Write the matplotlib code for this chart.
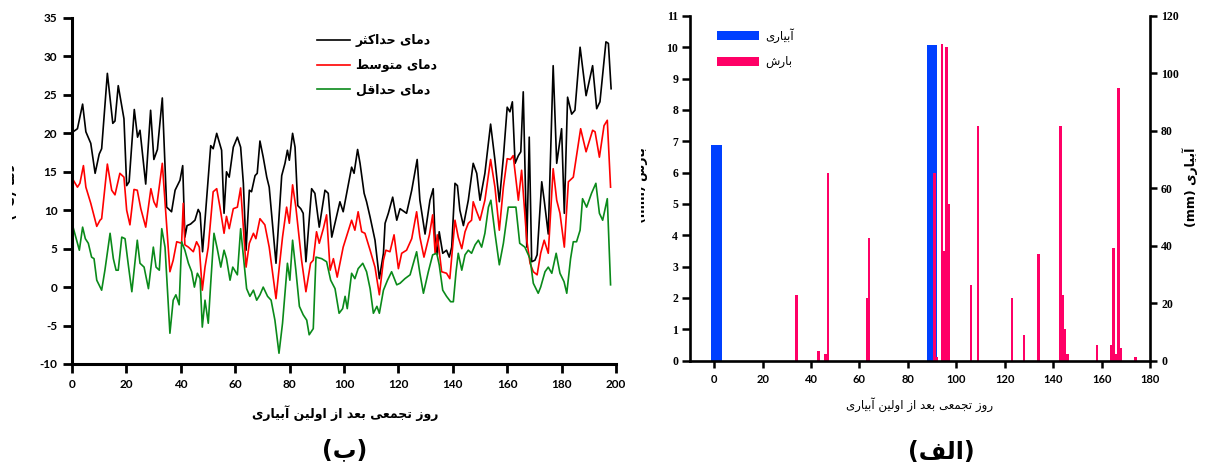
import matplotlib
matplotlib.use("Agg")
import matplotlib.pyplot as plt
from matplotlib.transforms import Bbox

# ---------------- data ----------------
tmax_days = [0, 2, 3.9, 5.1, 6.9, 8.5, 10, 10.9, 13, 15, 15.8, 17, 19.1, 20.1, 21, 22.9, 24.1, 25, 27.1, 28.9,
             30.1, 31.4, 33.2, 34.8, 36.6, 37.9, 39.7, 40.7, 41.5, 42.3, 43.6, 45.2, 46.4, 47.1, 48, 51, 51.9, 53.2,
             55, 55.9, 56.8, 57.8, 59.3, 60.8, 62, 63, 64, 65.2, 66, 67.3, 68.1, 69.1, 70.3, 71.6, 72.5, 75,
             77.1, 78.3, 79.2, 79.9, 81.1, 82, 83, 84.1, 85, 86, 88.1, 89.3, 90.9, 93, 94.2, 95.5, 98.5, 99.7,
             102.8, 103.7, 105, 105.9, 107.4, 108.3, 109.6, 111.4, 113, 114.5, 115.1, 116.3, 117.9, 119.4,
             120.6, 123, 124.9, 126.9, 127.9, 129.8, 131.6, 132.8, 133.5, 134.3, 135, 136.3, 137.7, 138.7,
             139.6, 140.8, 141.7, 142.6, 143.9, 145.7, 147.5, 148.8, 150, 151.8, 153.9, 155.5, 157.1, 158.6,
             160, 161, 161.9, 162.9, 164.1, 165, 165.9, 167.2, 168.1, 169, 170.2, 171, 172.7, 173.6, 175.1,
             176.9, 178.2, 180, 181, 182.2, 183.7, 184.9, 186.8, 189, 191.4, 192.9, 194.1, 196.3, 197.2, 198.2]
tmax = [20.1, 20.6, 23.8, 20.2, 18.7, 14.8, 17.3, 18.0, 27.8, 21.3, 21.6, 26.2, 21.9, 13.2, 13.7, 23.1, 19.5, 20.4,
        13.4, 23.0, 16.6, 17.9, 24.6, 10.4, 9.8, 12.6, 13.9, 15.8, 6.5, 8.0, 8.2, 8.7, 10.1, 9.6, 4.6, 18.4, 18.0,
        20.0, 17.8, 9.6, 15.0, 14.3, 18.2, 19.5, 18.2, 13.5, 4.8, 12.6, 12.4, 14.5, 14.8, 19.0, 16.9, 14.3, 13.0,
        3.1, 14.5, 16.1, 17.8, 16.5, 20.0, 18.2, 10.6, 10.2, 9.6, 3.3, 12.8, 12.2, 7.8, 12.6, 12.2, 6.5, 11.1,
        9.8, 15.6, 14.8, 17.9, 16.1, 12.2, 11.1, 9.1, 6.1, 1.1, 4.4, 8.3, 9.6, 11.7, 8.7, 10.2, 9.6, 12.6, 16.6,
        11.3, 6.9, 11.3, 12.8, 6.1, 4.2, 7.2, 4.4, 4.8, 3.9, 5.2, 13.5, 13.2, 10.0, 8.0, 11.3, 16.1, 14.8, 11.3,
        14.8, 21.2, 16.5, 11.1, 16.9, 23.4, 22.8, 24.1, 16.1, 17.1, 17.6, 25.4, 5.2, 19.5, 3.3, 3.5, 4.2, 13.7,
        11.3, 6.9, 28.8, 16.1, 20.6, 9.6, 24.7, 22.5, 23.0, 31.2, 24.9, 28.8, 23.2, 24.1, 31.9, 31.7, 25.8]

tmean_days = [0, 2, 2.9, 4.2, 5.1, 6.9, 9.1, 10.3, 10.9, 13, 14.6, 15.8, 17.6, 19.1, 20.1, 21.3, 22.8, 24, 25.3,
              27.1, 29, 30.1, 31.1, 33.2, 36, 37.2, 38.5, 40.3, 40.9, 41.5, 42.8, 44.6, 45.8, 46.8, 47.9, 48.9,
              50.1, 51.9, 53.2, 54.4, 55.9, 56.8, 57.8, 59.3, 60.8, 62, 64, 65.2, 66.7, 67.6, 69.1, 70.9, 72.5,
              75, 76.2, 77.4, 78.9, 79.9, 81.1, 82.3, 84.4, 86, 87.7, 88.7, 89.9, 90.9, 92.4, 93.6, 94.9, 96.1,
              97.5, 99.7, 102.8, 104, 105.2, 106.5, 107.7, 109.6, 111.4, 113, 114.5, 115.4, 116.9, 118.4, 120,
              121.2, 123, 124.9, 126.7, 127.9, 129.4, 131.4, 132.6, 133.5, 134.3, 135.9, 137.7, 138.9, 140.8,
              142, 143.3, 144.5, 145.7, 146.9, 147.5, 148.8, 150, 151.8, 153.9, 155.5, 157.1, 158.6, 160, 161.2,
              162.2, 164.1, 165.3, 167.2, 168.4, 169.6, 171, 172.3, 173.6, 175.1, 176.9, 178.2, 179.4, 181,
              182.5, 184.3, 187, 189, 191.4, 192.3, 193.9, 195.6, 196.8, 198]
tmean = [14.2, 13.0, 13.5, 15.8, 13.0, 10.9, 7.9, 8.7, 8.9, 16.0, 12.6, 12.0, 14.8, 14.3, 10.0, 8.1, 12.7, 12.6,
         10.2, 7.8, 12.8, 11.1, 10.4, 16.1, 2.0, 3.5, 5.9, 5.7, 10.9, 5.5, 5.2, 4.6, 5.9, 5.2, -0.4, 2.6, 5.2,
         12.4, 12.8, 10.4, 7.0, 9.2, 7.6, 10.2, 10.4, 12.9, 2.6, 5.7, 7.0, 6.3, 8.9, 8.1, 5.2, -1.5, 2.6, 6.5,
         10.4, 8.3, 13.3, 10.4, 3.5, -0.6, 3.1, 3.5, 7.2, 5.7, 7.6, 9.4, 2.2, 3.7, 1.3, 5.2, 8.7, 7.4, 9.8, 7.2,
         7.0, 4.8, 2.6, -1.0, 3.5, 4.8, 4.6, 6.8, 2.4, 4.4, 4.8, 6.3, 9.8, 6.5, 3.9, 6.8, 9.4, 4.4, 6.8, 2.0,
         1.8, 1.1, 8.7, 6.5, 5.0, 7.2, 8.3, 8.7, 11.1, 9.8, 8.7, 11.3, 16.6, 13.0, 7.4, 13.0, 16.7, 16.6, 17.1,
         11.3, 15.2, 6.1, 3.1, 2.0, 1.6, 4.4, 6.1, 4.4, 15.4, 11.3, 9.6, 5.2, 13.7, 14.3, 20.6, 17.6, 20.4,
         20.2, 16.9, 21.0, 21.7, 13.0]

tmin_days = [0, 1.7, 2.7, 3.9, 4.9, 6, 7.2, 8.1, 9.1, 10.9, 12.1, 14, 15.2, 16.2, 17, 18.3, 19.5, 20.7, 22, 23.2,
             24, 25, 26.5, 28.1, 29.9, 30.9, 32.1, 33, 34.2, 36, 37.2, 38.2, 39.4, 40.3, 41.5, 42.8, 44, 45, 46.1,
             47.1, 47.9, 48.9, 50.1, 51, 52.2, 53.4, 54.7, 55.9, 56.8, 58.1, 59.1, 60.8, 62, 63, 64.2, 65.4,
             66.7, 67.9, 69.1, 70.3, 71.9, 73.2, 74.6, 76.1, 77.4, 79.2, 80.1, 81.1, 82.3, 83.6, 85, 86.3, 87.2,
             88.7, 89.7, 91.8, 93.6, 95.1, 96.7, 98.2, 99.5, 100.4, 101.2, 102.8, 104, 105.2, 106.9, 108.3,
             109.6, 110.8, 112.1, 113, 114.5, 116, 117.5, 119.4, 120.6, 122.4, 124.3, 126.7, 127.9, 129.2, 131,
             132.6, 134.1, 135, 136.3, 137.7, 139.2, 140.2, 141.2, 142, 143.3, 144.5, 145.7, 146.9, 148.2,
             149.4, 150.6, 151.8, 153.1, 154, 155.5, 157.1, 158.6, 160.4, 163.2, 164.6, 166.5, 168.4, 169.6,
             171.4, 172.3, 173.9, 175.1, 176.4, 178, 179.4, 180.9, 181.9, 183.3, 184.3, 185.5, 186.8, 187.7,
             189.2, 191, 192.6, 193.9, 195.1, 196.8, 198]
tmin = [8.3, 6.1, 4.8, 7.8, 6.3, 5.7, 3.9, 3.7, 0.9, -0.4, 2.2, 7.0, 3.7, 2.2, 2.2, 6.5, 6.3, 2.9, -0.6, 3.5, 6.1,
        3.1, 2.6, -0.2, 5.2, 2.6, 2.2, 7.6, 5.2, -6.0, -1.7, -1.0, -2.3, 5.9, 4.8, 3.1, 2.0, 0.0, 1.8, 1.1,
        -5.2, -1.7, -4.7, 0.5, 7.0, 5.0, 2.6, 4.8, 3.7, 0.9, 2.6, 1.6, 7.6, 4.0, -0.2, -1.2, -0.4, -1.7, -1.0,
        0.0, -1.2, -1.7, -4.3, -8.6, -4.7, 3.1, 0.9, 6.1, 2.2, -2.5, -3.6, -4.3, -6.2, -5.4, 3.9, 3.7, 3.3,
        0.9, -0.2, -3.4, -2.8, -1.2, -2.8, 1.8, 1.1, 2.4, 3.1, 2.0, -0.2, -3.4, -2.5, -3.4, -0.4, 0.9, 2.0,
        0.3, 0.5, 1.1, 1.6, 4.6, 1.8, -0.8, 2.0, 4.2, 4.4, 2.9, -0.4, -1.2, -1.9, -1.9, 2.0, 4.4, 2.2, 4.2,
        4.8, 4.4, 5.5, 6.1, 5.2, 7.0, 10.4, 11.3, 7.0, 2.9, 5.7, 10.4, 10.4, 5.7, 5.2, 3.7, 0.5, -0.8, 0.0,
        2.0, 2.6, 1.8, 4.4, 1.8, 0.7, -0.8, 3.7, 5.9, 5.9, 7.4, 11.5, 10.4, 12.2, 13.5, 9.6, 8.7, 11.5, 0.3]

rain_days = [34, 43, 46, 47, 63, 64, 91, 92, 94, 95, 96, 97, 106, 109, 123, 128, 134, 143, 144, 145, 146,
             158, 164, 165, 166, 167, 168, 174]
rain_mm = [2.1, 0.3, 0.2, 6.0, 2.0, 3.9, 6.0, 0.1, 10.1, 3.5, 10.0, 5.0, 2.4, 7.5, 2.0, 0.8, 3.4, 7.5, 2.1,
           1.0, 0.2, 0.5, 0.5, 3.6, 0.2, 8.7, 0.4, 0.1]
irr_days = [1, 90]
irr_mm = [75, 110]

left_yticks = [-10, -5, 0, 5, 10, 15, 20, 25, 30, 35]
left_xticks = [0, 20, 40, 60, 80, 100, 120, 140, 160, 180, 200]
right_xticks = [0, 20, 40, 60, 80, 100, 120, 140, 160, 180]
rain_ticks = list(range(0, 12))
irr_ticks = [0, 20, 40, 60, 80, 100, 120]

# ---------------- Persian shaping (presentation forms + visual order) ----------------
FORMS = {
    'ا': ('\uFE8D', '\uFE8E', None, None), 'آ': ('\uFE81', '\uFE82', None, None),
    'ب': ('\uFE8F', '\uFE90', '\uFE91', '\uFE92'), 'ت': ('\uFE95', '\uFE96', '\uFE97', '\uFE98'),
    'ث': ('\uFE99', '\uFE9A', '\uFE9B', '\uFE9C'), 'ج': ('\uFE9D', '\uFE9E', '\uFE9F', '\uFEA0'),
    'ح': ('\uFEA1', '\uFEA2', '\uFEA3', '\uFEA4'), 'د': ('\uFEA9', '\uFEAA', None, None),
    'ر': ('\uFEAD', '\uFEAE', None, None), 'ز': ('\uFEAF', '\uFEB0', None, None),
    'س': ('\uFEB1', '\uFEB2', '\uFEB3', '\uFEB4'), 'ش': ('\uFEB5', '\uFEB6', '\uFEB7', '\uFEB8'),
    'ط': ('\uFEC1', '\uFEC2', '\uFEC3', '\uFEC4'), 'ع': ('\uFEC9', '\uFECA', '\uFECB', '\uFECC'),
    'ف': ('\uFED1', '\uFED2', '\uFED3', '\uFED4'), 'ق': ('\uFED5', '\uFED6', '\uFED7', '\uFED8'),
    'ل': ('\uFEDD', '\uFEDE', '\uFEDF', '\uFEE0'), 'م': ('\uFEE1', '\uFEE2', '\uFEE3', '\uFEE4'),
    'ن': ('\uFEE5', '\uFEE6', '\uFEE7', '\uFEE8'), 'و': ('\uFEED', '\uFEEE', None, None),
    'ی': ('\uFBFC', '\uFBFD', '\uFBFE', '\uFBFF'), 'ک': ('\uFB8E', '\uFB8F', '\uFB90', '\uFB91'),
}


def fa(s):
    out = []
    for i, c in enumerate(s):
        if c not in FORMS:
            out.append(c)
            continue
        prev = s[i - 1] if i > 0 else None
        nxt = s[i + 1] if i + 1 < len(s) else None
        jp = prev in FORMS and FORMS[prev][2] is not None
        jn = FORMS[c][2] is not None and nxt in FORMS
        f = FORMS[c]
        if jp and jn:
            out.append(f[3])
        elif jp:
            out.append(f[1])
        elif jn:
            out.append(f[2])
        else:
            out.append(f[0])
    return ''.join(out)[::-1]


plt.rcParams['font.family'] = ['Lato', 'DejaVu Sans']
plt.rcParams['axes.unicode_minus'] = False
FA = ['DejaVu Sans']

W, H = 1206, 466
fig = plt.figure(figsize=(W / 100, H / 100), dpi=100)


def px(x, y):
    return x / W, 1 - y / H


# ---------------- left panel (ب) ----------------
ax1 = fig.add_axes([72 / W, (H - 364) / H, 544 / W, 346 / H])
ax1.plot(tmax_days, tmax, color='black', lw=1.2, label=fa('دمای حداکثر'))
ax1.plot(tmean_days, tmean, color='#FF0000', lw=1.2, label=fa('دمای متوسط'))
ax1.plot(tmin_days, tmin, color='#0A8A1A', lw=1.2, label=fa('دمای حداقل'))
ax1.set_xlim(0, 200)
ax1.set_ylim(-10, 35)
ax1.set_xticks(left_xticks)
ax1.set_yticks(left_yticks)
for s in ['top', 'right']:
    ax1.spines[s].set_visible(False)
for s in ['left', 'bottom']:
    ax1.spines[s].set_linewidth(2.2)
ax1.tick_params(direction='out', length=6.5, width=2.0, labelsize=8.5, pad=4)
for lab in ax1.get_xticklabels() + ax1.get_yticklabels():
    lab.set_fontweight('bold')
leg1 = ax1.legend(loc='upper left', bbox_to_anchor=((317 - 72) / 544, (364 - 34) / 346), frameon=False,
                  borderaxespad=0, borderpad=0, handlelength=2.6, handletextpad=0.5, labelspacing=0.95,
                  prop={'family': FA, 'weight': 'bold', 'size': 9})

fig.text(*px(345, 413), fa('روز تجمعی بعد از اولین آبیاری'), ha='center', va='center',
         family=FA, weight='bold', fontsize=9)
fig.text(*px(345, 450), '(' + fa('ب') + ')', ha='center', va='center', family=FA, weight='bold', fontsize=17)
ty = fig.text(*px(11, 192), '(°C) ' + fa('دما'), ha='center', va='center', rotation=90,
              family=FA, weight='bold', fontsize=10)
ty.set_clip_box(Bbox.from_extents(12, 0, W, H))
ty.set_clip_on(True)

# ---------------- right panel (الف) ----------------
ax2 = fig.add_axes([690 / W, (H - 360.5) / H, 460 / W, 344.5 / H])
ax3 = ax2.twinx()
ax3.bar(irr_days, irr_mm, width=4.4, color='#0040FF', label=fa('آبیاری'))
ax2.bar(rain_days, rain_mm, width=1.0, color='#FF0066', label=fa('بارش'))
ax2.set_zorder(ax3.get_zorder() + 1)
ax2.patch.set_visible(False)
ax2.set_xlim(-10, 180)
ax2.set_ylim(0, 11)
ax3.set_ylim(0, 120)
ax2.set_xticks(right_xticks)
ax2.set_yticks(rain_ticks)
ax3.set_yticks(irr_ticks)
for a in (ax2, ax3):
    a.spines['top'].set_visible(False)
    for s in ['left', 'right', 'bottom']:
        a.spines[s].set_linewidth(1.9)
ax2.spines['right'].set_visible(False)
ax3.spines['left'].set_visible(False)
ax3.spines['bottom'].set_visible(False)
ax2.tick_params(axis='x', direction='out', length=5, width=1.8, labelsize=8, pad=5)
ax2.tick_params(axis='y', direction='out', length=5.5, width=1.8, labelsize=8.5, pad=3)
ax3.tick_params(axis='y', direction='out', length=5, width=1.8, labelsize=8.5, pad=3)
for lab in ax2.get_xticklabels():
    lab.set_fontweight('bold')
for lab in ax2.get_yticklabels() + ax3.get_yticklabels():
    lab.set_family('Liberation Serif')
    lab.set_fontweight('bold')

h3, l3 = ax3.get_legend_handles_labels()
h2, l2 = ax2.get_legend_handles_labels()
ax2.legend(h3 + h2, l3 + l2, loc='upper left', bbox_to_anchor=((717 - 690) / 460, (360.5 - 28) / 344.5),
           frameon=False, borderaxespad=0, borderpad=0, handlelength=3.6, handleheight=0.8,
           handletextpad=0.5, labelspacing=1.05, prop={'family': FA, 'size': 8.5})

fig.text(*px(920, 405), fa('روز تجمعی بعد از اولین آبیاری'), ha='center', va='center',
         family=FA, fontsize=8.5)
fig.text(*px(941, 452), '(' + fa('الف') + ')', ha='center', va='center', family=FA, weight='bold', fontsize=17)
t = fig.text(*px(641, 185), '(mm) ' + fa('بارش'), ha='center', va='center', rotation=90,
             family=FA, weight='bold', fontsize=9)
t.set_clip_box(Bbox.from_extents(641, 0, W, H))
t.set_clip_on(True)
fig.text(*px(1190, 187), '(mm) ' + fa('آبیاری'), ha='center', va='center', rotation=90,
         family=FA, weight='bold', fontsize=9)

fig.savefig('out.png', dpi=100)
